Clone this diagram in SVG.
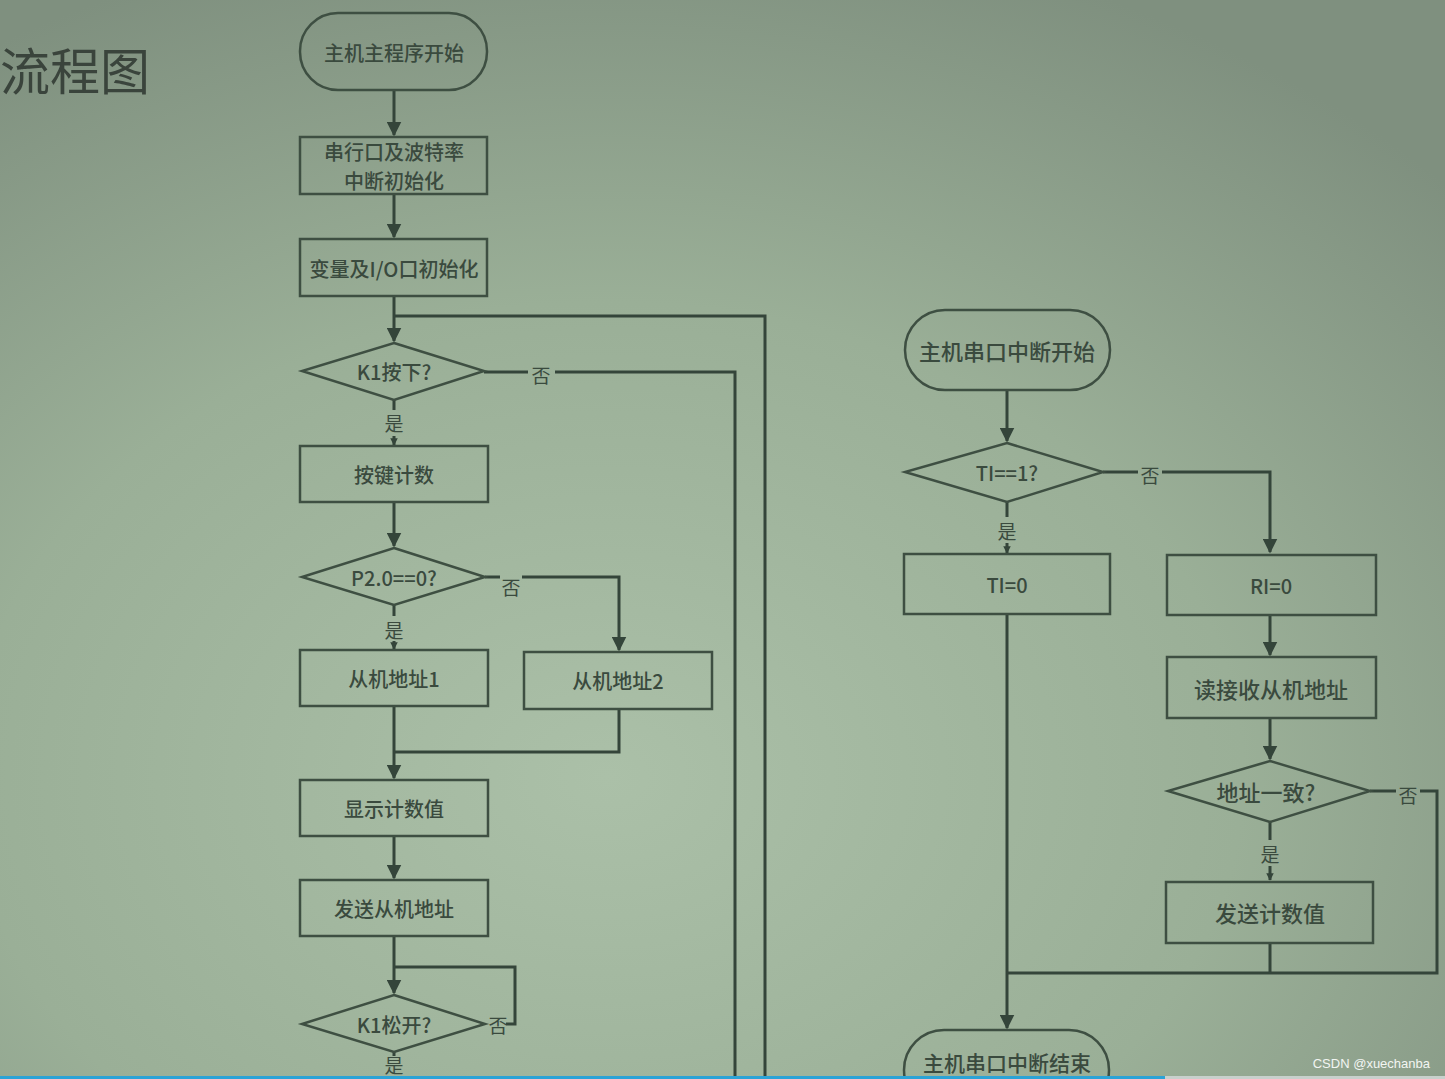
<svg xmlns="http://www.w3.org/2000/svg" width="1445" height="1079" viewBox="0 0 1445 1079">
<defs>
<radialGradient id="bg" cx="0.42" cy="0.72" r="0.8">
<stop offset="0" stop-color="#abc0a8"/>
<stop offset="0.55" stop-color="#9aaf97"/>
<stop offset="1" stop-color="#7f907f"/>
</radialGradient>
<marker id="ah" viewBox="0 0 10 10" refX="9" refY="5" markerWidth="5" markerHeight="5" orient="auto" markerUnits="strokeWidth">
<path d="M0,0 L10,5 L0,10 z" fill="#34453a"/>
</marker>
<marker id="sm" viewBox="0 0 10 10" refX="9" refY="5" markerWidth="2.5" markerHeight="2.5" orient="auto" markerUnits="strokeWidth">
<path d="M0,0 L10,5 L0,10 z" fill="#34453a"/>
</marker>
<style>
.n{fill:none;stroke:#3e4f42;stroke-width:2.5}
.c{fill:none;stroke:#34453a;stroke-width:3}
.t{font-family:"Noto Sans CJK SC","Liberation Sans",sans-serif;font-size:20px;font-weight:500;fill:#3a4a3e;text-anchor:middle;dominant-baseline:central}
.l{font-family:"Noto Sans CJK SC","Liberation Sans",sans-serif;font-size:19px;fill:#3a4a3e;text-anchor:middle;dominant-baseline:central}
</style>
</defs>
<rect width="1445" height="1079" fill="url(#bg)"/>
<text x="0" y="68" font-family="Noto Sans CJK SC,sans-serif" font-size="50" fill="#3a443c" dominant-baseline="central">流程图</text>

<g id="connectors">
<path class="c" d="M394,90 V135" marker-end="url(#ah)"/>
<path class="c" d="M394,194 V237" marker-end="url(#ah)"/>
<path class="c" d="M394,296 V341" marker-end="url(#ah)"/>
<path class="c" d="M394,316 H765 V1079"/>
<path class="c" d="M484,372 H528 M555,372 H735 V1079"/>
<path class="c" d="M394,400 V410 M394,436 V445" marker-end="url(#sm)"/>
<path class="c" d="M394,502 V546" marker-end="url(#ah)"/>
<path class="c" d="M485,577 H500 M522,577 H619 V650" marker-end="url(#ah)"/>
<path class="c" d="M394,605 V616 M394,641 V649" marker-end="url(#sm)"/>
<path class="c" d="M394,706 V778" marker-end="url(#ah)"/>
<path class="c" d="M619,709 V752 H394"/>
<path class="c" d="M394,836 V878" marker-end="url(#ah)"/>
<path class="c" d="M394,936 V993" marker-end="url(#ah)"/>
<path class="c" d="M506,1024 H515 V967 H394"/>
<path class="c" d="M394,1052 V1056"/>

<path class="c" d="M1007,390 V441" marker-end="url(#ah)"/>
<path class="c" d="M1103,472 H1138 M1162,472 H1270 V552" marker-end="url(#ah)"/>
<path class="c" d="M1007,502 V517 M1007,543 V553" marker-end="url(#sm)"/>
<path class="c" d="M1007,614 V1028" marker-end="url(#ah)"/>
<path class="c" d="M1270,615 V655" marker-end="url(#ah)"/>
<path class="c" d="M1270,718 V759" marker-end="url(#ah)"/>
<path class="c" d="M1370,791 H1396 M1420,791 H1437 V973 H1007"/>
<path class="c" d="M1270,822 V840 M1270,866 V880" marker-end="url(#sm)"/>
<path class="c" d="M1270,943 V973"/>
</g>

<g id="start"><rect class="n" x="300" y="13" width="187" height="77" rx="38"/><text class="t" x="394" y="52">主机主程序开始</text></g>
<g id="init1"><rect class="n" x="300" y="137" width="187" height="57"/><text class="t" x="394" y="151">串行口及波特率</text><text class="t" x="394" y="180">中断初始化</text></g>
<g id="init2"><rect class="n" x="300" y="239" width="187" height="57"/><text class="t" x="394" y="268">变量及I/O口初始化</text></g>
<g id="k1press"><polygon class="n" points="394,343 484,371 394,400 302,371"/><text class="t" x="394" y="371">K1按下?</text></g>
<text class="l" x="541" y="374">否</text>
<text class="l" x="394" y="422">是</text>
<g id="count"><rect class="n" x="300" y="446" width="188" height="56"/><text class="t" x="394" y="474">按键计数</text></g>
<g id="p20"><polygon class="n" points="394,548 485,577 394,605 302,577"/><text class="t" x="394" y="577">P2.0==0?</text></g>
<text class="l" x="511" y="586">否</text>
<text class="l" x="394" y="629">是</text>
<g id="addr1"><rect class="n" x="300" y="650" width="188" height="56"/><text class="t" x="394" y="678">从机地址1</text></g>
<g id="addr2"><rect class="n" x="524" y="652" width="188" height="57"/><text class="t" x="618" y="680">从机地址2</text></g>
<g id="show"><rect class="n" x="300" y="780" width="188" height="56"/><text class="t" x="394" y="808">显示计数值</text></g>
<g id="sendaddr"><rect class="n" x="300" y="880" width="188" height="56"/><text class="t" x="394" y="908">发送从机地址</text></g>
<g id="k1rel"><polygon class="n" points="394,995 485,1024 394,1052 302,1024"/><text class="t" x="394" y="1024">K1松开?</text></g>
<text class="l" x="498" y="1024">否</text>
<text class="l" x="394" y="1064">是</text>

<g id="istart"><rect class="n" x="905" y="310" width="205" height="80" rx="40"/><text class="t" x="1007" y="350" style="font-size:22px">主机串口中断开始</text></g>
<g id="ti1"><polygon class="n" points="1007,443 1103,472 1007,502 905,472"/><text class="t" x="1007" y="472">TI==1?</text></g>
<text class="l" x="1150" y="474">否</text>
<text class="l" x="1007" y="530">是</text>
<g id="ti0"><rect class="n" x="904" y="554" width="206" height="60"/><text class="t" x="1007" y="584">TI=0</text></g>
<g id="ri0"><rect class="n" x="1167" y="555" width="209" height="60"/><text class="t" x="1271" y="585">RI=0</text></g>
<g id="readaddr"><rect class="n" x="1167" y="657" width="209" height="61"/><text class="t" x="1271" y="688" style="font-size:22px">读接收从机地址</text></g>
<g id="match"><polygon class="n" points="1270,761 1370,791 1270,822 1168,791"/><text class="t" x="1266" y="791" style="font-size:22px">地址一致?</text></g>
<text class="l" x="1408" y="794">否</text>
<text class="l" x="1270" y="853">是</text>
<g id="sendcount"><rect class="n" x="1166" y="882" width="207" height="61"/><text class="t" x="1270" y="912" style="font-size:22px">发送计数值</text></g>
<g id="iend"><rect class="n" x="904" y="1030" width="205" height="80" rx="40"/><text class="t" x="1007" y="1062" style="font-size:21px">主机串口中断结束</text></g>

<text x="1430" y="1063" font-family="Liberation Sans,sans-serif" font-size="13" fill="#f2f5f2" text-anchor="end" dominant-baseline="central">CSDN @xuechanba</text>
<rect x="0" y="1076" width="1165" height="3" fill="#2ba3d6"/>
<rect x="1165" y="1076" width="280" height="3" fill="#c8d0cc"/>
</svg>
